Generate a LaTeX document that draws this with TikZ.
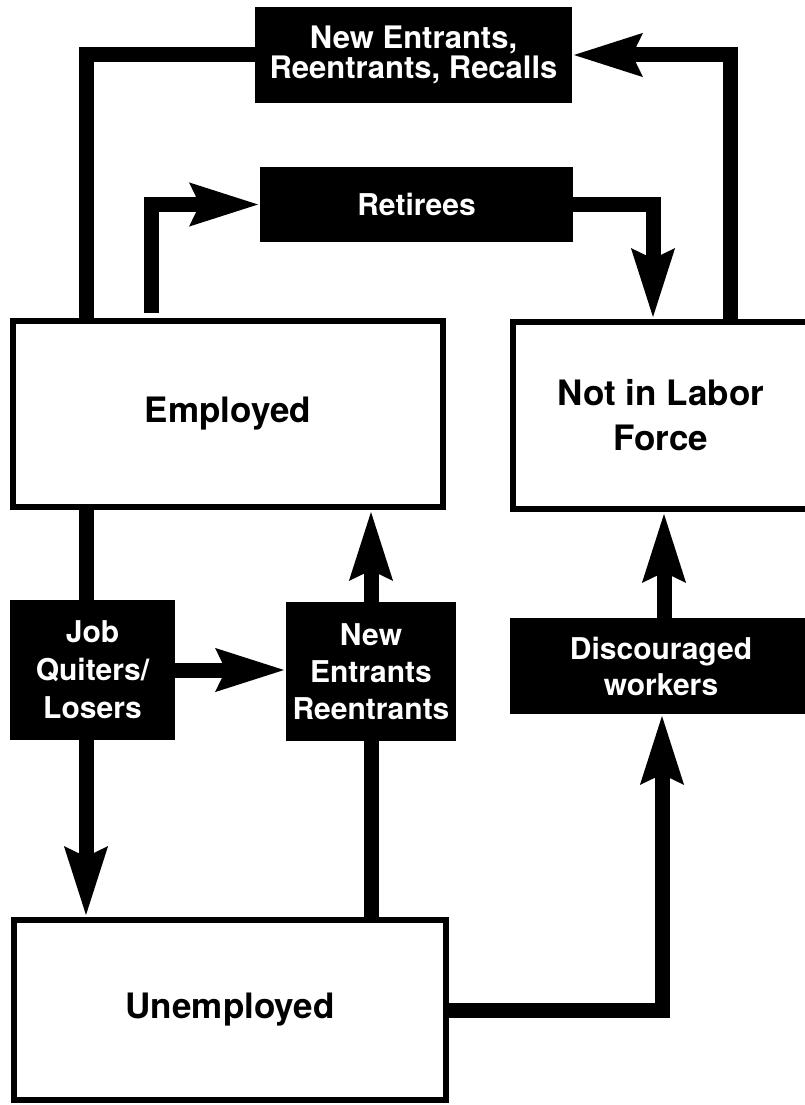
\documentclass[tikz,border=0pt]{standalone}
\usepackage{fontspec}
\setmainfont{TeX Gyre Heros}
\usetikzlibrary{arrows.meta}
\newcommand\bigtxt{\fontsize{35}{45}\selectfont\bfseries}
\newcommand\smalltxt{\fontsize{30}{37}\selectfont\bfseries}
\begin{document}
\begin{tikzpicture}[x=1pt,y=-1pt,
  whitebox/.style={draw, line width=6pt, fill=white, rectangle, inner sep=0pt, outer sep=3pt, align=center, font=\bigtxt},
  blackbox/.style={fill=black, text=white, rectangle, inner sep=0pt, outer sep=0pt, align=center, font=\smalltxt},
  flow/.style={line width=15pt},
  flowarrow/.style={flow, -{Stealth[length=68pt,width=40pt,inset=8pt]}},
]
\useasboundingbox (0,0) rectangle (804,1105);
% white boxes
\node[whitebox, minimum width=430pt, minimum height=186pt] (emp) at (228,414) {Employed};
\node[whitebox, minimum width=296pt, minimum height=187pt] (nilf) at (661,415.5) {Not in Labor\\Force};
\node[whitebox, minimum width=432pt, minimum height=180pt] (unemp) at (230,1010) {Unemployed};
% black boxes
\node[blackbox, minimum width=317pt, minimum height=96pt, font=\fontsize{31}{30}\selectfont\bfseries] (top) at (413.5,55) {New Entrants,\\Reentrants, Recalls};
\node[blackbox, minimum width=313pt, minimum height=75pt] (ret) at (416.5,204.5) {Retirees};
\node[blackbox, minimum width=165pt, minimum height=140pt, font=\fontsize{30}{38}\selectfont\bfseries] (job) at (92.5,670) {Job\\Quiters/\\Losers};
\node[blackbox, minimum width=170pt, minimum height=139pt] (ner) at (371,671.5) {New\\Entrants\\Reentrants};
\node[blackbox, minimum width=302pt, minimum height=96pt, font=\fontsize{30}{36}\selectfont\bfseries] (disc) at (661,666) {Discouraged\\workers};
% guide coordinates
\coordinate (xL) at (86,0);
\coordinate (xR) at (730,0);
\coordinate (rs) at (151,313);
\coordinate (xRout) at (653,0);
\coordinate (xNER) at (371,0);
\coordinate (xDisc) at (664,0);
\coordinate (xUD) at (662,0);
% connectors
\draw[flow] (emp.north -| xL) |- (top.west);
\draw[flowarrow] (nilf.north -| xR) |- (top.east);
\draw[flowarrow] (rs) |- (ret.west);
\draw[flowarrow] (ret.east) -| (nilf.north -| xRout);
\draw[flow] (emp.south -| xL) -- (job.north -| xL);
\draw[flowarrow] (job.east) -- (job.east -| ner.west);
\draw[flowarrow] (job.south -| xL) -- (unemp.north -| xL);
\draw[flowarrow] (ner.north -| xNER) -- (emp.south -| xNER);
\draw[flow] (unemp.north -| xNER) -- (ner.south -| xNER);
\draw[flowarrow] (disc.north -| xDisc) -- (nilf.south -| xDisc);
\draw[flowarrow] (unemp.east) -| (disc.south -| xUD);
\end{tikzpicture}
\end{document}
